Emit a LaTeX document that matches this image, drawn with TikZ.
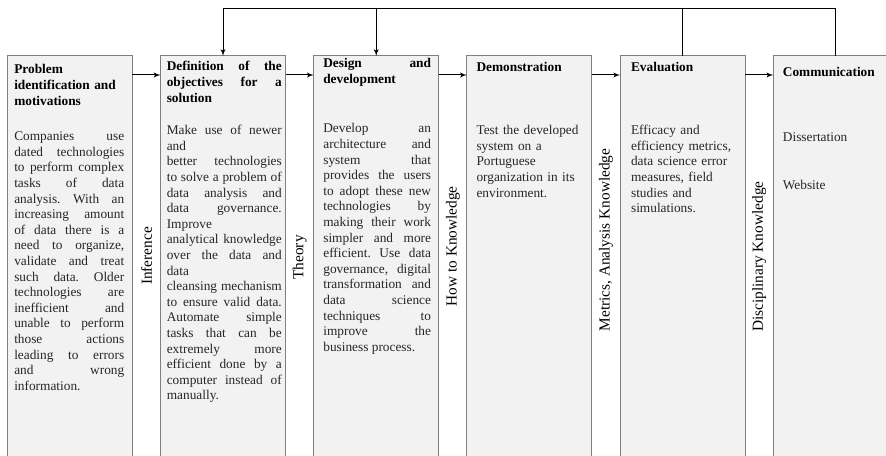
\documentclass[tikz,border=0pt]{standalone}
\usepackage{fontspec}
\setmainfont{Liberation Serif}
\usepackage{tikz}
\usetikzlibrary{arrows, positioning, calc}
\definecolor{boxfill}{HTML}{F2F2F2}
\definecolor{boxline}{HTML}{7F7F7F}
\definecolor{bodytext}{HTML}{262626}
\tolerance=10000
\hbadness=10000
\frenchspacing

\begin{document}
\begin{tikzpicture}[node distance=21.15pt,
        stage/.style={draw=boxline, line width=0.75pt, fill=boxfill, rectangle, minimum width=93.75pt, minimum height=310pt, inner sep=0pt, outer sep=0pt},
        head/.style={anchor=base west, inner sep=0pt, font=\fontsize{10}{11.7}\selectfont\bfseries},
        body/.style={anchor=base west, inner sep=0pt, text=bodytext, font=\fontsize{10}{11.7}\selectfont},
        side/.style={rotate=90, inner sep=0pt, font=\fontsize{11.5}{13}\selectfont},
        line/.style={draw, -latex', line width=0.75pt}]

        \useasboundingbox (0,0) rectangle (664.5pt,-342pt);

        % Stufen
        \node [stage, anchor=north west] (p1) at (5.5pt,-42pt) {};
        \node [stage, right=of p1] (p2) {};
        \node [stage, right=of p2] (p3) {};
        \node [stage, right=of p3] (p4) {};
        \node [stage, right=of p4] (p5) {};
        \node [stage, right=of p5] (p6) {};

        % Titel
        \node [head, text width=82.5pt, align=left] (h1) at ([xshift=5pt,yshift=-13.5pt]p1.north west) {Problem\\identification and\\motivations};
        \node [head, text width=86.25pt, align=justify] (h2) at ([xshift=4.5pt,yshift=-11.25pt]p2.north west) {Definition of the\linebreak objectives for a\linebreak solution};
        \node [head, text width=80.8pt, align=justify] (h3) at ([xshift=7pt,yshift=-9pt]p3.north west) {Design and\linebreak development};
        \node [head] (h4) at ([xshift=7pt,yshift=-11.5pt]p4.north west) {Demonstration};
        \node [head] (h5) at ([xshift=8pt,yshift=-11.5pt]p5.north west) {Evaluation};
        \node [head] (h6) at ([xshift=7pt,yshift=-15.75pt]p6.north west) {Communication};

        % Texte
        \node [body, text width=82.5pt, align=justify] (b1) at ([xshift=5pt,yshift=-63.5pt]p1.north west) {Companies use\linebreak dated technologies\linebreak to perform complex\linebreak tasks of data\linebreak analysis. With an\linebreak increasing amount\linebreak of data there is a\linebreak need to organize,\linebreak validate and treat\linebreak such data. Older\linebreak technologies are\linebreak inefficient and\linebreak unable to perform\linebreak those actions\linebreak leading to errors\linebreak and wrong\linebreak information.};
        \node [body, text width=86.25pt, align=justify] (b2) at ([xshift=4.5pt,yshift=-59pt]p2.north west) {Make use of newer\linebreak and\newline better technologies\linebreak to solve a problem of\linebreak data analysis and\linebreak data governance.\linebreak Improve\newline analytical knowledge\linebreak over the data and\linebreak data\newline cleansing mechanism\linebreak to ensure valid data.\linebreak Automate simple\linebreak tasks that can be\linebreak extremely more\linebreak efficient done by a\linebreak computer instead of\linebreak manually.};
        \node [body, text width=80.8pt, align=justify] (b3) at ([xshift=7pt,yshift=-57.75pt]p3.north west) {Develop an\linebreak architecture and\linebreak system that\linebreak provides the users\linebreak to adopt these new\linebreak technologies by\linebreak making their work\linebreak simpler and more\linebreak efficient. Use data\linebreak governance, digital\linebreak transformation and\linebreak data science\linebreak techniques to\linebreak improve the\linebreak business process.};
        \node [body, text width=85pt, align=left] (b4) at ([xshift=7pt,yshift=-59pt]p4.north west) {Test the developed\\system on a\\Portuguese\\organization in its\\environment.};
        \node [body, text width=85pt, align=left] (b5) at ([xshift=8pt,yshift=-59pt]p5.north west) {Efficacy and\\efficiency metrics,\\data science error\\measures, field\\studies and\\simulations.};
        \node [body, text width=80pt, align=left] (b6) at ([xshift=7pt,yshift=-64pt]p6.north west) {Dissertation\\[24.3pt]Website};

        % Wissen zwischen den Stufen
        \node [side] (k1) at ($(p1.north east)!0.5!(p2.north west)+(0,-150pt)$) {Inference};
        \node [side] (k2) at ($(p2.north east)!0.5!(p3.north west)+(0,-151.1pt)$) {Theory};
        \node [side] (k3) at ($(p3.north east)!0.5!(p4.north west)+(0,-142.7pt)$) {How to Knowledge};
        \node [side] (k4) at ($(p4.north east)!0.5!(p5.north west)+(0,-138pt)$) {Metrics, Analysis Knowledge};
        \node [side] (k5) at ($(p5.north east)!0.5!(p6.north west)+(0,-150.5pt)$) {Disciplinary Knowledge};

        % Pfeile
        \path [line] ([yshift=-14.25pt]p1.north east) -- ([yshift=-14.25pt]p2.north west);
        \path [line] ([yshift=-14.25pt]p2.north east) -- ([yshift=-14.25pt]p3.north west);
        \path [line] ([yshift=-14.25pt]p3.north east) -- ([yshift=-14.25pt]p4.north west);
        \path [line] ([yshift=-14.25pt]p4.north east) -- ([yshift=-14.25pt]p5.north west);
        \path [line] ([yshift=-14.25pt]p5.north east) -- ([yshift=-14.25pt]p6.north west);

        % Rueckkopplung
        \coordinate (fb) at ([yshift=35.8pt]p2.north);
        \path [line] (p6.north) |- (fb) -- (p2.north);
        \draw [line width=0.75pt] (p5.north) -- (p5.north |- fb);
        \path [line] (p3.north |- fb) -- (p3.north);
    \end{tikzpicture}
\end{document}
